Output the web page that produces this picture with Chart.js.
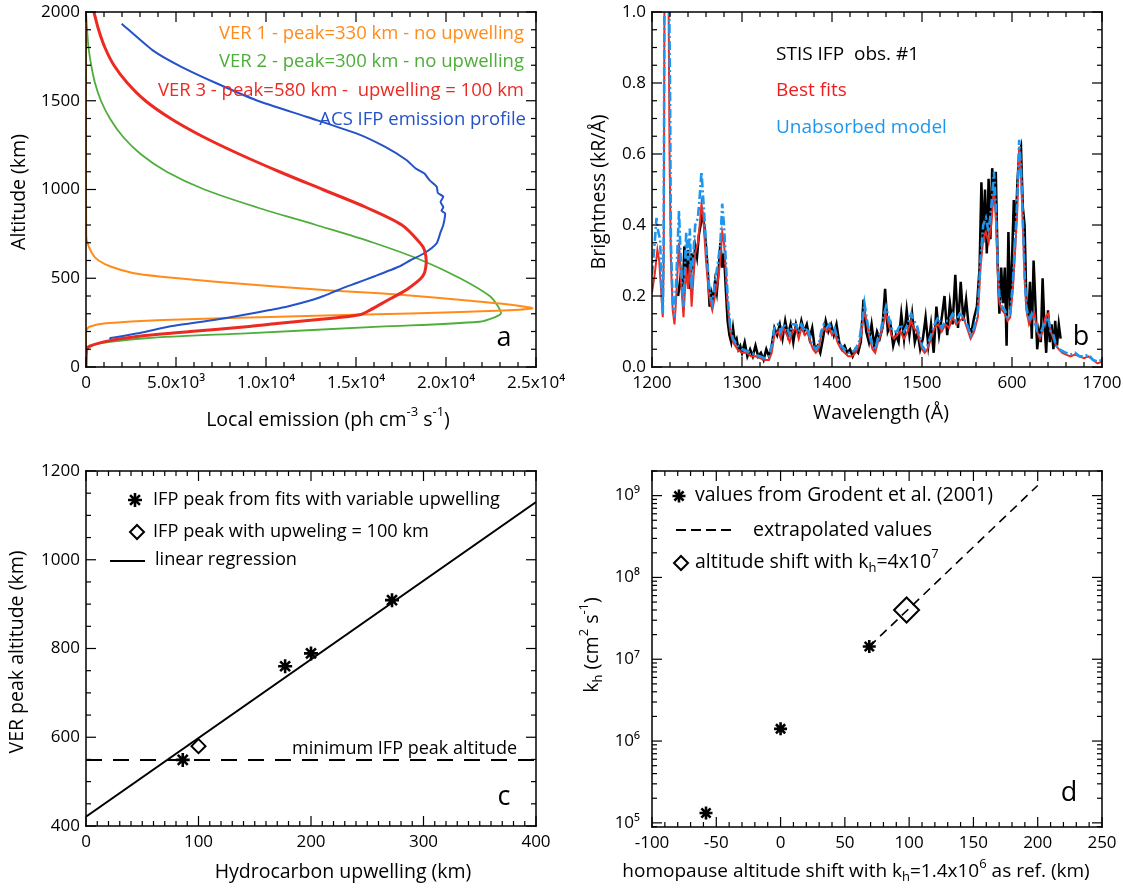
<!DOCTYPE html>
<html>
<head>
<meta charset="utf-8">
<script src="https://cdn.jsdelivr.net/npm/chart.js@4.4.1/dist/chart.umd.min.js"></script>
<style>
  html, body { margin: 0; padding: 0; background: #fff; }
  #wrap { position: relative; width: 1123px; height: 888px; overflow: hidden; }
  canvas { position: absolute; }
</style>
</head>
<body>
<div id="wrap">
  <canvas id="cvA" width="600" height="444" style="left:0;top:0"></canvas>
  <canvas id="cvB" width="562" height="444" style="left:561px;top:0"></canvas>
  <canvas id="cvC" width="600" height="444" style="left:0;top:444px"></canvas>
  <canvas id="cvD" width="562" height="444" style="left:561px;top:444px"></canvas>
</div>
<script>
/* ---- Panel a: volume emission rate profiles ---- */
const ver1Alt  = [2000, 1500, 1000, 800, 715, 640, 600, 565, 530, 509, 480, 452, 430, 415, 395, 377, 358, 340, 330, 317, 302, 283, 265, 246, 227, 208, 195, 0];
const ver1Emis = [0, 0, 0, 10, 40, 340, 700, 1400, 2600, 4200, 7200, 10700, 13800, 16300, 19000, 20900, 23000, 24400, 24800, 22800, 18000, 10700, 4300, 1100, 190, 20, 0, 0];

const ver2Alt  = [2000, 1900, 1800, 1700, 1600, 1500, 1400, 1300, 1200, 1100, 1000, 900, 800, 700, 600, 500, 400, 340, 302, 280, 255, 227, 190, 162, 133, 110, 96, 0];
const ver2Emis = [0, 60, 140, 290, 500, 830, 1330, 2030, 3030, 4480, 6580, 9480, 12780, 15980, 18680, 20780, 22430, 22900, 23050, 22700, 21850, 16300, 8900, 3300, 740, 150, 0, 0];

const ver3Alt  = [2000, 1900, 1800, 1700, 1600, 1500, 1400, 1300, 1200, 1100, 1000, 900, 800, 700, 660, 585, 510, 435, 379, 322, 294, 270, 245, 227, 200, 177, 150, 118, 97, 0];
const ver3Emis = [440, 700, 1050, 1550, 2300, 3300, 4700, 6450, 8500, 10750, 13150, 15550, 17550, 18550, 18800, 18900, 18700, 17800, 16800, 15800, 15200, 13200, 10600, 8900, 5800, 3300, 1400, 200, 40, 0];

const acsAlt  = [1934, 1784, 1691, 1597, 1503, 1410, 1316, 1241, 1166, 1120, 1091, 1054, 1016, 980, 960, 930, 900, 880, 866, 847, 800, 754, 697, 641, 600, 566, 510, 472, 434, 400, 379, 341, 321, 294, 265, 229, 191, 163, 157];
const acsEmis = [1980, 3710, 5300, 7280, 9460, 12240, 15020, 16600, 17800, 18300, 18790, 19070, 19480, 19550, 19850, 19700, 19850, 19750, 19950, 19940, 19850, 19680, 19480, 18790, 18000, 17400, 16000, 15000, 14000, 13200, 12600, 11200, 10200, 8800, 7100, 4700, 3000, 1350, 1330];

/* ---- Panel b: STIS spectrum [wavelength, kR/A] ---- */
const obsSpec = [
  [1229,0.20],[1232,0.26],[1234,0.20],[1236,0.34],[1238,0.24],[1240,0.33],[1242,0.22],[1244,0.32],[1246,0.28],[1248,0.34],
  [1250,0.31],[1252,0.37],[1254,0.40],[1256,0.43],[1258,0.40],[1260,0.34],[1262,0.27],[1264,0.17],[1266,0.21],[1268,0.19],
  [1270,0.24],[1272,0.21],[1274,0.27],[1276,0.35],[1278,0.28],[1280,0.32],[1282,0.22],[1284,0.13],[1286,0.09],[1288,0.07],
  [1290,0.11],[1292,0.07],[1294,0.08],[1296,0.05],[1298,0.06],[1300,0.04],[1303,0.07],[1306,0.03],[1309,0.05],[1312,0.03],
  [1315,0.06],[1318,0.03],[1321,0.04],[1324,0.02],[1327,0.05],[1330,0.03],[1333,0.06],[1336,0.11],[1339,0.09],[1342,0.12],
  [1345,0.08],[1348,0.13],[1351,0.09],[1354,0.12],[1357,0.07],[1360,0.12],[1363,0.09],[1366,0.13],[1369,0.10],[1372,0.12],
  [1375,0.08],[1378,0.11],[1381,0.05],[1384,0.06],[1387,0.04],[1390,0.08],[1393,0.13],[1396,0.10],[1399,0.12],[1402,0.09],
  [1405,0.12],[1408,0.07],[1411,0.05],[1414,0.06],[1417,0.04],[1420,0.05],[1423,0.03],[1426,0.05],[1429,0.04],[1432,0.07],
  [1435,0.19],[1438,0.10],[1441,0.07],[1444,0.12],[1447,0.06],[1450,0.10],[1453,0.08],[1456,0.11],[1459,0.22],[1462,0.10],
  [1465,0.12],[1468,0.06],[1471,0.09],[1474,0.07],[1477,0.15],[1480,0.08],[1483,0.16],[1486,0.09],[1489,0.15],[1492,0.07],
  [1495,0.10],[1498,0.05],[1501,0.08],[1504,0.14],[1507,0.06],[1510,0.12],[1513,0.04],[1516,0.17],[1519,0.09],[1522,0.14],
  [1525,0.20],[1528,0.09],[1531,0.18],[1534,0.12],[1537,0.26],[1540,0.11],[1543,0.24],[1546,0.13],[1549,0.19],[1552,0.11],
  [1555,0.10],[1558,0.14],[1561,0.17],[1564,0.28],[1566,0.52],[1568,0.35],[1570,0.50],[1572,0.32],[1574,0.53],[1576,0.36],
  [1578,0.56],[1580,0.48],[1582,0.55],[1584,0.30],[1586,0.15],[1588,0.28],[1590,0.18],[1592,0.28],[1594,0.06],[1596,0.38],
  [1598,0.16],[1600,0.30],[1602,0.47],[1604,0.38],[1606,0.52],[1608,0.60],[1610,0.62],[1612,0.45],[1614,0.40],[1616,0.18],
  [1618,0.14],[1620,0.24],[1622,0.08],[1624,0.30],[1626,0.18],[1628,0.05],[1630,0.10],[1632,0.07],[1634,0.25],[1636,0.12],
  [1638,0.04],[1640,0.16],[1642,0.07],[1644,0.12],[1646,0.05],[1648,0.13],[1650,0.06],[1652,0.12],[1654,0.08]
];
const fitSpec = [
  [1200,0.21],[1203,0.26],[1206,0.33],[1208,0.30],[1210,0.22],[1212,0.14],[1213,0.30],[1214,1.2],[1216,3.0],[1218,1.2],
  [1219.5,0.6],[1221,0.30],[1223,0.16],[1225,0.12],[1227,0.20],[1230,0.35],[1232,0.25],[1235,0.14],[1238,0.28],[1240,0.22],
  [1242,0.29],[1244,0.17],[1246,0.25],[1248,0.32],[1251,0.35],[1253,0.40],[1255,0.46],[1257,0.42],[1260,0.30],[1263,0.21],
  [1265,0.18],[1267,0.16],[1270,0.20],[1273,0.24],[1276,0.30],[1278,0.38],[1280,0.35],[1282,0.27],[1284,0.18],[1287,0.10],
  [1290,0.07],[1295,0.05],[1300,0.04],[1305,0.04],[1310,0.03],[1315,0.03],[1320,0.025],[1325,0.02],[1330,0.02],[1333,0.04],
  [1336,0.09],[1340,0.10],[1343,0.08],[1346,0.11],[1350,0.09],[1353,0.07],[1356,0.10],[1360,0.11],[1363,0.08],[1366,0.11],
  [1370,0.09],[1373,0.10],[1376,0.07],[1379,0.05],[1382,0.04],[1385,0.05],[1388,0.09],[1391,0.11],[1394,0.10],[1397,0.11],
  [1400,0.09],[1403,0.10],[1406,0.07],[1410,0.05],[1414,0.04],[1418,0.03],[1422,0.03],[1426,0.04],[1430,0.06],[1433,0.10],
  [1436,0.16],[1439,0.12],[1442,0.08],[1445,0.05],[1448,0.04],[1451,0.07],[1454,0.09],[1457,0.12],[1460,0.15],[1463,0.12],
  [1466,0.09],[1469,0.08],[1472,0.09],[1476,0.10],[1480,0.08],[1484,0.10],[1488,0.13],[1491,0.11],[1494,0.10],[1497,0.08],
  [1500,0.05],[1503,0.04],[1506,0.05],[1510,0.08],[1514,0.11],[1518,0.12],[1522,0.10],[1526,0.12],[1530,0.11],[1534,0.14],
  [1538,0.12],[1542,0.13],[1546,0.14],[1550,0.11],[1554,0.08],[1558,0.10],[1562,0.14],[1565,0.28],[1568,0.36],[1571,0.38],
  [1574,0.35],[1577,0.40],[1580,0.50],[1582,0.42],[1584,0.28],[1586,0.18],[1589,0.16],[1592,0.15],[1595,0.13],[1598,0.14],
  [1601,0.22],[1604,0.35],[1606,0.45],[1608,0.62],[1610,0.55],[1612,0.40],[1614,0.25],[1616,0.16],[1619,0.12],[1622,0.14],
  [1625,0.15],[1628,0.10],[1631,0.08],[1634,0.10],[1637,0.14],[1640,0.15],[1643,0.10],[1646,0.08],[1649,0.06],[1652,0.05],
  [1656,0.04],[1660,0.035],[1665,0.03],[1670,0.035],[1675,0.03],[1680,0.025],[1685,0.03],[1690,0.02],[1695,0.01],[1700,0.015]
];
const unabsSpec = [
  [1200,0.26],[1203,0.35],[1205,0.42],[1207,0.38],[1209,0.36],[1211,0.20],[1212,0.15],[1213,0.35],[1214,1.2],[1216,3.0],
  [1218,1.3],[1220,0.8],[1221,0.35],[1223,0.18],[1225,0.14],[1227,0.25],[1230,0.44],[1232,0.30],[1235,0.17],[1238,0.38],
  [1240,0.30],[1242,0.39],[1244,0.22],[1246,0.32],[1248,0.40],[1251,0.42],[1253,0.48],[1255,0.55],[1257,0.47],[1260,0.35],
  [1263,0.24],[1265,0.20],[1267,0.18],[1270,0.24],[1273,0.29],[1276,0.35],[1278,0.46],[1280,0.40],[1282,0.30],[1284,0.20],
  [1287,0.11],[1290,0.08],[1295,0.06],[1300,0.05],[1305,0.045],[1310,0.04],[1315,0.035],[1320,0.03],[1325,0.025],[1330,0.03],
  [1333,0.06],[1336,0.11],[1340,0.12],[1343,0.10],[1346,0.12],[1350,0.11],[1353,0.09],[1356,0.12],[1360,0.12],[1363,0.10],
  [1366,0.12],[1370,0.10],[1373,0.11],[1376,0.08],[1379,0.06],[1382,0.05],[1385,0.06],[1388,0.10],[1391,0.12],[1394,0.11],
  [1397,0.12],[1400,0.10],[1403,0.11],[1406,0.08],[1410,0.06],[1414,0.05],[1418,0.04],[1422,0.04],[1426,0.05],[1430,0.07],
  [1433,0.12],[1436,0.18],[1439,0.13],[1442,0.09],[1445,0.06],[1448,0.05],[1451,0.08],[1454,0.10],[1457,0.14],[1460,0.17],
  [1463,0.14],[1466,0.11],[1469,0.10],[1472,0.10],[1476,0.12],[1480,0.10],[1484,0.12],[1488,0.15],[1491,0.13],[1494,0.12],
  [1497,0.09],[1500,0.06],[1503,0.05],[1506,0.06],[1510,0.09],[1514,0.12],[1518,0.14],[1522,0.11],[1526,0.13],[1530,0.13],
  [1534,0.15],[1538,0.13],[1542,0.15],[1546,0.14],[1550,0.12],[1554,0.09],[1558,0.11],[1562,0.16],[1565,0.30],[1568,0.40],
  [1571,0.42],[1574,0.38],[1577,0.45],[1580,0.55],[1582,0.45],[1584,0.30],[1586,0.20],[1589,0.17],[1592,0.16],[1595,0.14],
  [1598,0.15],[1601,0.24],[1604,0.38],[1606,0.48],[1608,0.64],[1610,0.56],[1612,0.42],[1614,0.26],[1616,0.17],[1619,0.13],
  [1622,0.15],[1625,0.13],[1628,0.10],[1631,0.09],[1634,0.11],[1637,0.13],[1640,0.14],[1643,0.10],[1646,0.09],[1649,0.06],
  [1652,0.05],[1656,0.045],[1660,0.04],[1665,0.035],[1670,0.04],[1675,0.03],[1680,0.03],[1685,0.035],[1690,0.02],[1695,0.015],[1700,0.02]
];

/* ---- Panel c: peak altitude vs upwelling ---- */
const fitUpwell  = [86, 177, 200, 272];
const fitPeakAlt = [549, 760, 789, 909];
const refUpwell  = [100];
const refPeakAlt = [580];
const regUpwell  = [0, 400];
const regPeakAlt = [421, 1130];
const minPeakAlt = 549;

/* ---- Panel d: eddy diffusion vs homopause shift ---- */
const grodentShift = [-58, 0, 69];
const grodentKh    = [1.32e5, 1.41e6, 1.43e7];
const extrapShift  = [69, 200];
const extrapKh     = [1.43e7, 1.33e9];
const chosenShift  = [98];
const chosenKh     = [4.0e7];

const FONT = "'Open Sans', 'DejaVu Sans', sans-serif";
const SUP = { '0':'⁰','1':'¹','2':'²','3':'³','4':'⁴','5':'⁵','6':'⁶','7':'⁷','8':'⁸','9':'⁹','-':'⁻' };
const sup = n => String(n).split('').map(c => SUP[c]).join('');
const pts = (xs, ys) => xs.map((x, i) => ({ x, y: ys[i] }));
const pairs = arr => arr.map(([x, y]) => ({ x, y }));

// canvas placement: page offset, scale box sizes, padding
const PANELS = {
  a: { ox: 0,   oy: 0,   yw: 86, xh: 77, pt: 12, pr: 64 },
  b: { ox: 561, oy: 0,   yw: 91, xh: 77, pt: 12, pr: 21 },
  c: { ox: 0,   oy: 444, yw: 86, xh: 62, pt: 27, pr: 64 },
  d: { ox: 561, oy: 444, yw: 91, xh: 61, pt: 27, pr: 21 },
};

// text with _{sub} and ^{sup}
function parseRich(str) {
  const parts = [];
  const re = /([_^])\{([^}]*)\}/g;
  let last = 0, m;
  while ((m = re.exec(str))) {
    if (m.index > last) parts.push({ t: str.slice(last, m.index), k: 0 });
    parts.push({ t: m[2], k: m[1] === '_' ? 1 : -1 });
    last = re.lastIndex;
  }
  if (last < str.length) parts.push({ t: str.slice(last), k: 0 });
  return parts;
}

function drawRich(ctx, str, x, y, o) {
  const size = o.size || 17;
  const parts = parseRich(str);
  const fontFor = p => `${p.k ? Math.round(size * 0.68) : size}px ${FONT}`;
  let w = 0;
  parts.forEach(p => { ctx.font = fontFor(p); p.w = ctx.measureText(p.t).width; w += p.w; });
  ctx.save();
  ctx.translate(x, y);
  if (o.rotate) ctx.rotate(o.rotate);
  ctx.fillStyle = o.color || '#000';
  ctx.textBaseline = 'middle';
  ctx.textAlign = 'left';
  let cx = o.align === 'right' ? -w : o.align === 'center' ? -w / 2 : 0;
  parts.forEach(p => {
    ctx.font = fontFor(p);
    const dy = p.k === 1 ? size * 0.3 : p.k === -1 ? -size * 0.38 : 0;
    ctx.fillText(p.t, cx, dy);
    cx += p.w;
  });
  ctx.restore();
}

function drawKey(ctx, k, ox, oy) {
  const x = k.x - ox, y = k.y - oy;
  ctx.save();
  ctx.strokeStyle = '#000';
  ctx.lineWidth = k.width;
  ctx.setLineDash(k.dash || []);
  ctx.beginPath();
  if (k.kind === 'line') {
    ctx.moveTo(x, y); ctx.lineTo(k.x2 - ox, y);
  } else if (k.kind === 'star') {
    for (let i = 0; i < 4; i++) {
      const ang = i * Math.PI / 4;
      ctx.moveTo(x - k.r * Math.cos(ang), y - k.r * Math.sin(ang));
      ctx.lineTo(x + k.r * Math.cos(ang), y + k.r * Math.sin(ang));
    }
  } else {
    ctx.moveTo(x, y - k.r); ctx.lineTo(x + k.r, y); ctx.lineTo(x, y + k.r); ctx.lineTo(x - k.r, y); ctx.closePath();
  }
  ctx.stroke();
  ctx.restore();
}

function tickValues(lo, hi, t) {
  const out = [];
  if (t.log) {
    for (let d = Math.floor(Math.log10(lo)); d <= Math.ceil(Math.log10(hi)); d++) {
      for (let k = 1; k <= 9; k++) {
        const v = k * Math.pow(10, d);
        if (v >= lo && v <= hi) out.push([v, k === 1]);
      }
    }
    return out;
  }
  const n = Math.round((hi - lo) / t.minor);
  const per = Math.round(t.major / t.minor);
  for (let i = 0; i <= n; i++) out.push([lo + i * t.minor, i % per === 0]);
  return out;
}

// IDL-style box with inward ticks on all four sides
function boxPlugin(tx, ty) {
  return {
    id: 'idlbox',
    afterDraw(chart) {
      const ctx = chart.ctx;
      const xs = chart.scales.x, ys = chart.scales.y;
      const L = xs.left, R = xs.right, T = ys.top, B = ys.bottom;
      ctx.save();
      ctx.fillStyle = '#000';
      ctx.fillRect(L - 0.75, T - 0.75, R - L + 1.5, 1.5);
      ctx.fillRect(L - 0.75, B - 0.75, R - L + 1.5, 1.5);
      ctx.fillRect(L - 0.75, T - 0.75, 1.5, B - T + 1.5);
      ctx.fillRect(R - 0.75, T - 0.75, 1.5, B - T + 1.5);
      tickValues(tx.min, tx.max, tx).forEach(([v, major]) => {
        const px = xs.getPixelForValue(v), len = major ? 10 : 5;
        ctx.fillRect(px - 0.6, B - len, 1.2, len);
        ctx.fillRect(px - 0.6, T, 1.2, len);
      });
      tickValues(ty.min, ty.max, ty).forEach(([v, major]) => {
        const py = ys.getPixelForValue(v), len = major ? 10 : 5;
        ctx.fillRect(L, py - 0.6, len, 1.2);
        ctx.fillRect(R - len, py - 0.6, len, 1.2);
      });
      ctx.restore();
    }
  };
}

// legend keys, panel letter and axis titles
function labelPlugin(p, keys, texts) {
  return {
    id: 'idllabels',
    afterDraw(chart) {
      const ctx = chart.ctx;
      keys.forEach(k => drawKey(ctx, k, p.ox, p.oy));
      texts.forEach(t => drawRich(ctx, t.s, t.x - p.ox, t.y - p.oy, t));
    }
  };
}

function axis(p, isX, min, max, step, fmt, pad, extra) {
  return Object.assign({
    type: 'linear', min, max,
    grid: { display: false, drawTicks: false },
    border: { display: false },
    ticks: {
      stepSize: step, color: '#000', padding: pad, maxRotation: 0, autoSkip: false,
      font: { family: FONT, size: 17 }, callback: fmt,
    },
    afterFit: s => {
      if (isX) { s.height = p.xh; s.paddingLeft = 0; s.paddingRight = 0; }
      else { s.width = p.yw; s.paddingTop = 0; s.paddingBottom = 0; }
    },
  }, extra || {});
}

function baseOptions(p, scales) {
  return {
    responsive: false,
    devicePixelRatio: 1,
    animation: false,
    events: [],
    layout: { padding: { top: p.pt, right: p.pr, left: 0, bottom: 0 } },
    plugins: { legend: { display: false }, tooltip: { enabled: false } },
    scales,
  };
}

const lineDs = (data, color, width, extra) => Object.assign({
  data, showLine: true, borderColor: color, borderWidth: width, pointRadius: 0, fill: false, tension: 0,
}, extra || {});

const sciLabel = v => {
  if (v === 0) return '0';
  const e = Math.floor(Math.log10(v) + 1e-9);
  return (v / Math.pow(10, e)).toFixed(1) + 'x10' + sup(e);
};

const ORANGE = '#ff8c1a', GREEN = '#4dae3a', RED = '#ec2a22', BLUE = '#2452c8', SKY = '#1e96ee';
const TITLE = 19.5;

/* ---- a ---- */
const geoA = PANELS.a;
new Chart(document.getElementById('cvA'), {
  type: 'scatter',
  data: { datasets: [
    lineDs(pts(ver3Emis, ver3Alt), RED, 3, { tension: 0.3, order: 1 }),
    lineDs(pts(acsEmis, acsAlt), BLUE, 2, { tension: 0.2, order: 2 }),
    lineDs(pts(ver1Emis, ver1Alt), ORANGE, 2, { tension: 0.25, order: 3 }),
    lineDs(pts(ver2Emis, ver2Alt), GREEN, 1.8, { tension: 0.3, order: 4 }),
  ] },
  options: baseOptions(geoA, {
    x: axis(geoA, true, 0, 25000, 5000, sciLabel, 6),
    y: axis(geoA, false, 0, 2000, 500, v => v, 6),
  }),
  plugins: [
    boxPlugin({ min: 0, max: 25000, major: 5000, minor: 1000 }, { min: 0, max: 2000, major: 500, minor: 100 }),
    labelPlugin(geoA, [], [
      { s: 'VER 1 - peak=330 km - no upwelling', x: 524, y: 34, align: 'right', color: ORANGE, size: 18.5 },
      { s: 'VER 2 - peak=300 km - no upwelling', x: 524, y: 62, align: 'right', color: GREEN, size: 18.5 },
      { s: 'VER 3 - peak=580 km -  upwelling = 100 km', x: 524, y: 91, align: 'right', color: RED, size: 18.5 },
      { s: 'ACS IFP emission profile', x: 526, y: 120, align: 'right', color: BLUE, size: 18.5 },
      { s: 'a', x: 504, y: 338, align: 'center', size: 27 },
      { s: 'Local emission (ph cm^{-3} s^{-1})', x: 328, y: 420, align: 'center', size: TITLE },
      { s: 'Altitude (km)', x: 19, y: 192, align: 'center', size: TITLE, rotate: -Math.PI / 2 },
    ]),
  ],
});

/* ---- b ---- */
const geoB = PANELS.b;
new Chart(document.getElementById('cvB'), {
  type: 'scatter',
  data: { datasets: [
    lineDs(pairs(unabsSpec), SKY, 2.6, { borderDash: [9, 3, 2, 3], order: 1 }),
    lineDs(pairs(fitSpec), RED, 2, { order: 2 }),
    lineDs(pairs(obsSpec), '#000', 2.5, { order: 3 }),
  ] },
  options: baseOptions(geoB, {
    x: axis(geoB, true, 1200, 1700, 100, v => (v === 1600 ? '600' : String(v)), 6),
    y: axis(geoB, false, 0, 1, 0.2, v => v.toFixed(1), 6),
  }),
  plugins: [
    boxPlugin({ min: 1200, max: 1700, major: 100, minor: 20 }, { min: 0, max: 1, major: 0.2, minor: 0.05 }),
    labelPlugin(geoB, [], [
      { s: 'STIS IFP  obs. #1', x: 776, y: 55, size: 19 },
      { s: 'Best fits', x: 776, y: 91, size: 19, color: '#ee1c1c' },
      { s: 'Unabsorbed model', x: 776, y: 128, size: 19, color: SKY },
      { s: 'b', x: 1081, y: 337, align: 'center', size: 27 },
      { s: 'Wavelength (Å)', x: 881, y: 413, align: 'center', size: TITLE },
      { s: 'Brightness (kR/Å)', x: 599, y: 192, align: 'center', size: TITLE, rotate: -Math.PI / 2 },
    ]),
  ],
});

/* ---- c ---- */
const geoC = PANELS.c;
new Chart(document.getElementById('cvC'), {
  type: 'scatter',
  data: { datasets: [
    { data: pts(fitUpwell, fitPeakAlt), pointStyle: 'star', pointRadius: 7, pointBorderWidth: 2.6, pointBorderColor: '#000', order: 1 },
    { data: pts(refUpwell, refPeakAlt), pointStyle: 'rectRot', pointRadius: 7, pointBorderWidth: 2, pointBorderColor: '#000', pointBackgroundColor: 'rgba(0,0,0,0)', order: 2 },
    lineDs(pts(regUpwell, regPeakAlt), '#000', 1.8, { order: 3 }),
    lineDs(pts(regUpwell, [minPeakAlt, minPeakAlt]), '#000', 2, { borderDash: [16, 11], order: 4 }),
  ] },
  options: baseOptions(geoC, {
    x: axis(geoC, true, 0, 400, 100, v => v, 6),
    y: axis(geoC, false, 400, 1200, 200, v => v, 6),
  }),
  plugins: [
    boxPlugin({ min: 0, max: 400, major: 100, minor: 10 }, { min: 400, max: 1200, major: 200, minor: 50 }),
    labelPlugin(geoC, [
      { kind: 'star', x: 135, y: 500, r: 7, width: 2.6 },
      { kind: 'diamond', x: 137, y: 532, r: 7, width: 2 },
      { kind: 'line', x: 110, x2: 145, y: 561, width: 2 },
    ], [
      { s: 'IFP peak from fits with variable upwelling', x: 153, y: 500, size: 18.2 },
      { s: 'IFP peak with upweling = 100 km', x: 153, y: 532, size: 18.2 },
      { s: 'linear regression', x: 155, y: 560, size: 18.2 },
      { s: 'minimum IFP peak altitude', x: 517, y: 749, align: 'right', size: 18 },
      { s: 'c', x: 504, y: 797, align: 'center', size: 27 },
      { s: 'Hydrocarbon upwelling (km)', x: 343, y: 872, align: 'center', size: TITLE },
      { s: 'VER peak altitude (km)', x: 17, y: 652, align: 'center', size: TITLE, rotate: -Math.PI / 2 },
    ]),
  ],
});

/* ---- d ---- */
const geoD = PANELS.d;
const decades = [1e5, 1e6, 1e7, 1e8, 1e9];
new Chart(document.getElementById('cvD'), {
  type: 'scatter',
  data: { datasets: [
    { data: pts(grodentShift, grodentKh), pointStyle: 'star', pointRadius: 6.5, pointBorderWidth: 2.6, pointBorderColor: '#000', order: 1 },
    { data: pts(chosenShift, chosenKh), pointStyle: 'rectRot', pointRadius: 12.5, pointBorderWidth: 2, pointBorderColor: '#000', pointBackgroundColor: 'rgba(0,0,0,0)', order: 2 },
    lineDs(pts(extrapShift, extrapKh), '#000', 1.6, { borderDash: [9, 6], order: 3 }),
  ] },
  options: baseOptions(geoD, {
    x: axis(geoD, true, -100, 250, 50, v => v, 6),
    y: axis(geoD, false, 8.9e4, 2.0e9, null, v => '10' + sup(Math.round(Math.log10(v))), 12, {
      type: 'logarithmic',
      afterBuildTicks: s => { s.ticks = decades.map(v => ({ value: v })); },
    }),
  }),
  plugins: [
    boxPlugin({ min: -100, max: 250, major: 50, minor: 10 }, { min: 8.9e4, max: 2.0e9, log: true }),
    labelPlugin(geoD, [
      { kind: 'star', x: 679, y: 496, r: 6.5, width: 2.6 },
      { kind: 'line', x: 676, x2: 736, y: 530, width: 1.8, dash: [10, 5] },
      { kind: 'diamond', x: 681, y: 563, r: 7, width: 2 },
    ], [
      { s: 'values from Grodent et al. (2001)', x: 695, y: 495, size: 19.5 },
      { s: 'extrapolated values', x: 753, y: 530, size: 19.5 },
      { s: 'altitude shift with k_{h}=4x10^{7}', x: 695, y: 562, size: 19.5 },
      { s: 'd', x: 1069, y: 793, align: 'center', size: 27 },
      { s: 'homopause altitude shift with k_{h}=1.4x10^{6} as ref. (km)', x: 856, y: 872, align: 'center', size: 19 },
      { s: 'k_{h} (cm^{2} s^{-1})', x: 592, y: 645, align: 'center', size: TITLE, rotate: -Math.PI / 2 },
    ]),
  ],
});
</script>
</body>
</html>
